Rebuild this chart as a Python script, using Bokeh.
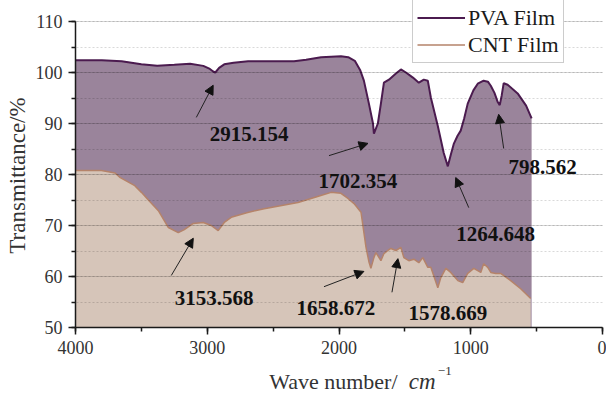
from bokeh.plotting import figure
from bokeh.layouts import column
from bokeh.models import (Range1d, SingleIntervalTicker, Legend, LegendItem,
                          Label, Arrow, NormalHead)
from bokeh.core.properties import value
from bokeh.embed import file_html
from bokeh.resources import INLINE

# FTIR transmittance spectra (wavenumber in cm^-1, transmittance in %)
pva_wn = [4000, 3800, 3650, 3500, 3380, 3250, 3130, 3030, 2980, 2955, 2939, 2910,
          2871, 2800, 2690, 2500, 2341, 2250, 2136, 2060, 1985, 1930, 1880, 1840,
          1811, 1773, 1742, 1735, 1705, 1682, 1659, 1621, 1568, 1530, 1492, 1439,
          1394, 1356, 1326, 1303, 1250, 1205, 1174, 1150, 1129, 1100, 1076, 1050,
          1023, 980, 947, 902, 870, 848, 820, 795, 780, 765, 750, 720, 644, 580, 538]
pva_t = [102.4, 102.4, 102.2, 101.6, 101.3, 101.5, 101.7, 101.3, 100.7, 100.2, 100.0, 100.9,
         101.6, 101.9, 102.2, 102.2, 102.2, 102.5, 103.0, 103.1, 103.2, 103.0, 102.3, 100.5,
         98.4, 93.9, 90.0, 88.0, 90.0, 93.9, 98.0, 98.6, 99.8, 100.6, 100.0, 99.0,
         98.0, 98.6, 98.4, 95.1, 89.5, 84.2, 81.6, 84.0, 86.0, 87.6, 88.6, 91.0,
         93.9, 96.5, 97.8, 98.4, 98.2, 97.4, 96.0, 94.2, 93.6, 95.5, 97.9, 97.6, 95.9, 93.5, 91.0]

cnt_wn = [4000, 3803, 3700, 3660, 3550, 3500, 3440, 3371, 3295, 3220, 3174, 3106,
          3030, 2970, 2917, 2871, 2818, 2700, 2568, 2311, 2150, 2060, 1985, 1932,
          1886, 1833, 1795, 1773, 1758, 1735, 1720, 1682, 1659, 1629, 1606, 1568,
          1530, 1508, 1470, 1432, 1394, 1364, 1326, 1303, 1250, 1227, 1189, 1152,
          1098, 1061, 1023, 977, 924, 902, 871, 848, 811, 773, 697, 621, 545]
cnt_t = [80.8, 80.8, 80.3, 79.4, 77.8, 76.5, 74.8, 72.9, 69.6, 68.6, 69.2, 70.4,
         70.6, 70.0, 69.0, 70.6, 71.6, 72.5, 73.3, 74.5, 75.8, 76.5, 76.3, 75.3,
         74.3, 72.6, 65.7, 62.9, 61.6, 63.7, 64.7, 63.1, 64.5, 65.1, 65.5, 65.1,
         65.7, 63.7, 63.1, 63.4, 62.7, 63.7, 61.8, 61.8, 57.8, 59.8, 61.6, 60.8,
         59.2, 58.8, 60.6, 61.6, 60.8, 62.5, 61.8, 60.8, 60.6, 60.6, 59.2, 57.6, 55.7]

series_names = ["PVA Film", "CNT Film"]

# Peak annotations: label text, label anchor, arrow tail and arrow tip
peak_text = ["2915.154", "1702.354", "1264.648", "798.562",
             "3153.568", "1658.672", "1578.669"]
peak_label_x = [2682, 1856, 811, 455, 2947, 2023, 1174]
peak_label_y = [88.0, 78.8, 68.4, 81.4, 55.7, 53.9, 52.9]
arrow_x0 = [3083, 2076, 1015, 750, 3273, 2114, 1598]
arrow_y0 = [91.2, 83.7, 73.5, 85.1, 60.2, 58.0, 56.9]
arrow_x1 = [2955, 1780, 1114, 788, 3106, 1811, 1553]
arrow_y1 = [97.5, 86.1, 79.4, 91.8, 67.5, 61.0, 63.5]

SERIF = "Liberation Serif"
INK = "#333333"

# main plot; the frame reaches the top edge so the legend fits inside it,
# while the y axis itself only spans 50-110
p = figure(width=606, height=362, output_backend="svg", toolbar_location=None,
           x_range=Range1d(4000, 0), y_range=Range1d(50, 110 + 21 / 5.1),
           min_border_left=75, min_border_right=4, min_border_top=0,
           min_border_bottom=35)
p.outline_line_color = None
p.background_fill_color = "white"
p.border_fill_color = "white"

# filled spectra
p.varea(x=pva_wn, y1=50, y2=pva_t, fill_color="#9a849b", fill_alpha=1.0)
p.varea(x=cnt_wn, y1=50, y2=cnt_t, fill_color="#d6c5b9", fill_alpha=1.0)
pva_line = p.line(pva_wn, pva_t, line_color="#4b1b4f", line_width=2)
cnt_line = p.line(cnt_wn, cnt_t, line_color="#b5836a", line_width=1.5)

# axes
xt = SingleIntervalTicker(interval=1000, num_minor_ticks=2)
yt = SingleIntervalTicker(interval=10, num_minor_ticks=2)
p.xaxis.ticker = xt
p.yaxis.ticker = yt
p.yaxis.bounds = (50, 110)
for ax in (p.xaxis[0], p.yaxis[0]):
    ax.axis_line_color = "#1a1a1a"
    ax.axis_line_width = 1.5
    ax.major_tick_line_color = "#1a1a1a"
    ax.major_tick_line_width = 1.5
    ax.minor_tick_line_color = "#1a1a1a"
    ax.minor_tick_line_width = 1.5
    ax.major_tick_out = 7
    ax.major_tick_in = 0
    ax.minor_tick_out = 4
    ax.minor_tick_in = 0
    ax.major_label_text_font = SERIF
    ax.major_label_text_font_size = "18px"
    ax.major_label_text_color = INK
    ax.major_label_standoff = 6

# the em space keeps the title centred on the 50-110 span of the axis
p.yaxis.axis_label = "Transmittance/%\u2003"
p.yaxis.axis_label_text_font = SERIF
p.yaxis.axis_label_text_font_style = "normal"
p.yaxis.axis_label_text_font_size = "23px"
p.yaxis.axis_label_text_color = INK
p.yaxis.axis_label_standoff = 3

# grid drawn above the fills
p.xgrid.visible = False
p.ygrid.ticker = yt
p.ygrid.bounds = (50, 110)
p.ygrid.level = "guide"
p.ygrid.grid_line_color = "black"
p.ygrid.grid_line_alpha = 0.15
p.ygrid.minor_grid_line_color = "black"
p.ygrid.minor_grid_line_alpha = 0.15
p.ygrid.minor_grid_line_dash = "2 2"

# peak labels with arrows
for t, lx, ly, x0, y0, x1, y1 in zip(peak_text, peak_label_x, peak_label_y,
                                     arrow_x0, arrow_y0, arrow_x1, arrow_y1):
    p.add_layout(Arrow(x_start=x0, y_start=y0, x_end=x1, y_end=y1,
                       line_color="#222222", line_width=1,
                       end=NormalHead(size=9, fill_color="#111111",
                                      line_color="#111111", line_width=1)))
    p.add_layout(Label(x=lx, y=ly, text=t, text_font=SERIF, text_font_style="bold",
                       text_font_size="21px", text_color="#111111",
                       text_align="center", text_baseline="middle"))

legend = Legend(items=[LegendItem(label=series_names[0], renderers=[pva_line]),
                       LegendItem(label=series_names[1], renderers=[cnt_line])],
                location=(337, 264))
legend.label_text_font = SERIF
legend.label_text_font_size = "22px"
legend.label_text_color = "#1a1a1a"
legend.glyph_width = 48
legend.glyph_height = 27
legend.label_height = 27
legend.label_standoff = 3
legend.padding = 4
legend.spacing = 0
legend.margin = 0
legend.border_line_color = "#9a9a9a"
legend.border_line_width = 1
legend.background_fill_color = "white"
legend.background_fill_alpha = 1.0
p.add_layout(legend)

# x-axis title strip under the plot, sharing its wavenumber range:
# plain text, italic unit and superscript exponent
t = figure(width=606, height=34, output_backend="svg", toolbar_location=None,
           x_range=p.x_range, y_range=Range1d(0, 34), min_border=0,
           x_axis_location=None, y_axis_location=None)
t.grid.visible = False
t.outline_line_color = None
t.text(x=[2530], y=[15], text=["Wave number/"], text_font=value(SERIF),
       text_font_size="22px", text_color=INK, text_baseline="alphabetic",
       text_align="left")
t.text(x=[1470], y=[15], text=["cm"], text_font=value(SERIF), text_font_style="italic",
       text_font_size="23px", text_color=INK, text_baseline="alphabetic",
       text_align="left")
t.text(x=[1250], y=[26], text=["\u22121"], text_font=value(SERIF),
       text_font_size="13px", text_color=INK, text_baseline="alphabetic",
       text_align="left")

page = column(p, t, spacing=0)
open("out.html", "w").write(file_html(page, INLINE))
